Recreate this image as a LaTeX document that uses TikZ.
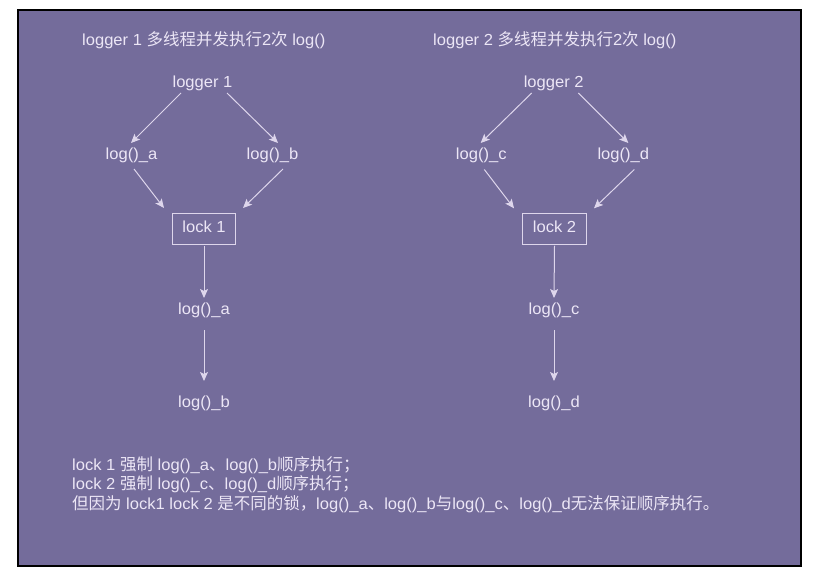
\documentclass[tikz,border=0pt]{standalone}
\usepackage{fontspec}
\setmainfont{Liberation Sans}[FakeStretch=1.035]
\newfontfamily\cjk{Noto Sans CJK SC}[Scale=1.03]
\usetikzlibrary{arrows.meta,calc}
\definecolor{bgpurple}{RGB}{116,108,155}
\definecolor{txtc}{RGB}{236,230,246}
\definecolor{linec}{RGB}{222,214,236}
\tikzset{
  lbl/.style={text=txtc, font=\fontsize{16bp}{19bp}\selectfont, inner sep=0pt, text height=11.5bp, text depth=3.4bp},
  lockbox/.style={lbl, draw=linec, line width=1bp, inner xsep=10bp, inner ysep=8bp},
  txtline/.style={text=txtc, font=\fontsize{16bp}{19bp}\selectfont, inner sep=0pt, anchor=base west},
  arr/.style={draw=linec, line width=1bp, -{Stealth[length=9bp,width=8bp,inset=2bp]}}
}
\begin{document}
\begin{tikzpicture}[x=1bp,y=-1bp]
\useasboundingbox (0,0) rectangle (816,576);
\fill[white] (0,0) rectangle (816,576);
\filldraw[fill=bgpurple, draw=black, line width=1.5bp] (18,10) rectangle (801,566);

% titles
\node[txtline] (t1) at (82,46) {logger 1 {\cjk 多线程并发执行}2{\cjk 次} log()};
\node[txtline] (t2) at (433,46) {logger 2 {\cjk 多线程并发执行}2{\cjk 次} log()};

% left group
\node[lbl] (l1) at (202.5,83) {logger 1};
\node[lbl] (la) at (131.5,155.5) {log()\_a};
\node[lbl] (lb) at (272.5,155.5) {log()\_b};
\node[lockbox] (k1) at (204,228.8) {lock 1};
\node[lbl] (la2) at (204,310) {log()\_a};
\node[lbl] (lb2) at (204,403) {log()\_b};

\draw[arr] ($(l1)+(-21.5,10)$) -- ($(la)+(-0.5,-12.5)$);
\draw[arr] ($(l1)+(24.5,10)$) -- ($(lb)+(5.5,-12.5)$);
\draw[arr] ($(la)+(2.5,13.5)$) -- ($(k1)+(-40,-20.8)$);
\draw[arr] ($(lb)+(10.5,13.5)$) -- ($(k1)+(39,-20.8)$);
\draw[arr] ($(k1.south)+(0,1)$) -- ($(la2)+(0,-12)$);
\draw[arr] ($(la2)+(0,20)$) -- ($(lb2)+(0,-22)$);

% right group
\node[lbl] (l2) at (553.7,83) {logger 2};
\node[lbl] (lc) at (481.3,155.5) {log()\_c};
\node[lbl] (ld) at (623.3,155.5) {log()\_d};
\node[lockbox] (k2) at (554.5,228.8) {lock 2};
\node[lbl] (lc2) at (554,310) {log()\_c};
\node[lbl] (ld2) at (554,403) {log()\_d};

\draw[arr] ($(l2)+(-22,10)$) -- ($(lc)+(-0.6,-12.5)$);
\draw[arr] ($(l2)+(24.6,10)$) -- ($(ld)+(5,-12.5)$);
\draw[arr] ($(lc)+(3,14)$) -- ($(k2)+(-40.5,-20.5)$);
\draw[arr] ($(ld)+(11,14)$) -- ($(k2)+(39.5,-20.5)$);
\draw[arr] ($(k2.south)+(0,1)$) -- ($(lc2)+(0,-12)$);
\draw[arr] ($(lc2)+(0,20)$) -- ($(ld2)+(0,-22)$);

% bottom text
\node[txtline] (n1) at (72,470) {lock 1 {\cjk 强制} log()\_a{\cjk 、}log()\_b{\cjk 顺序执行；}};
\node[txtline] (n2) at (72,489.5) {lock 2 {\cjk 强制} log()\_c{\cjk 、}log()\_d{\cjk 顺序执行；}};
\node[txtline] (n3) at (72,509) {{\cjk 但因为} lock1 lock 2 {\cjk 是不同的锁，}log()\_a{\cjk 、}log()\_b{\cjk 与}log()\_c{\cjk 、}log()\_d{\cjk 无法保证顺序执行。}};
\end{tikzpicture}
\end{document}
